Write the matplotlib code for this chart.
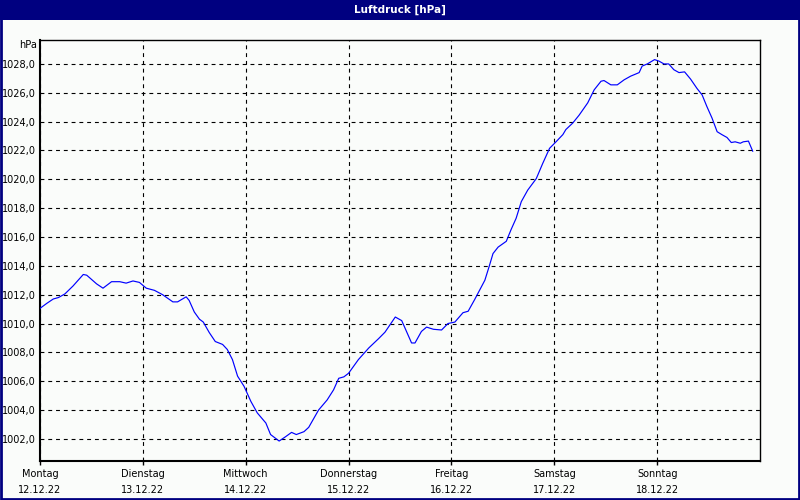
import numpy as np
import matplotlib.pyplot as plt
from matplotlib.patches import Rectangle

# Luftdruck-Verlauf 12.12.22 - 18.12.22
# Stunden ab Montag 00:00
hours = [0.0, 1.6, 3.1, 4.3, 5.8, 7.7, 10.1, 10.9, 13.2, 14.7, 16.7, 18.6, 20.1, 21.7, 23.2,
         24.8, 26.7, 28.6, 31.0, 32.1, 34.1, 34.8, 36.0, 37.2, 38.1, 39.5, 40.9, 42.6, 43.7,
         44.9, 46.1, 47.6, 49.2, 50.7, 52.7, 53.8, 55.8, 57.3, 58.7, 59.8, 61.6, 62.7, 65.0,
         67.0, 68.5, 69.7, 70.9, 72.0, 74.3, 76.7, 79.0, 80.5, 82.9, 84.4, 86.7, 87.5, 89.0,
         90.2, 91.8, 93.7, 95.2, 96.8, 98.7, 99.9, 101.4, 102.2, 103.8, 104.9, 105.7, 106.9,
         108.8, 109.9, 111.1, 112.3, 113.8, 115.8, 117.3, 118.9, 120.4, 122.0, 122.7, 124.3,
         125.8, 127.8, 129.3, 130.9, 131.6, 133.2, 134.7, 136.3, 137.8, 139.8, 140.5, 141.7,
         143.4, 144.4, 145.6, 146.7, 147.9, 149.1, 150.4, 151.8, 153.3, 154.5, 155.6, 156.8,
         158.0, 159.1, 160.3, 161.3, 162.2, 163.4, 164.1, 165.3, 166.3]
hpa = [1011.05, 1011.4, 1011.7, 1011.8, 1012.05, 1012.6, 1013.4, 1013.35, 1012.75, 1012.45,
       1012.9, 1012.9, 1012.8, 1012.95, 1012.85,
       1012.45, 1012.3, 1012.0, 1011.5, 1011.5, 1011.85, 1011.6, 1010.8, 1010.3, 1010.1,
       1009.37, 1008.75, 1008.55, 1008.2,
       1007.5, 1006.35, 1005.65, 1004.6, 1003.8, 1003.1, 1002.3, 1001.85, 1002.15, 1002.45,
       1002.3, 1002.5, 1002.8, 1004.0,
       1004.7, 1005.4, 1006.2, 1006.3, 1006.55, 1007.5, 1008.3, 1008.95, 1009.4, 1010.45,
       1010.2, 1008.65, 1008.65, 1009.45,
       1009.75, 1009.6, 1009.55, 1010.0, 1010.1, 1010.75, 1010.85, 1011.65, 1012.1, 1013.0,
       1014.05, 1014.85, 1015.3,
       1015.7, 1016.5, 1017.3, 1018.45, 1019.25, 1020.05, 1021.1, 1022.15, 1022.6, 1023.1,
       1023.45, 1023.9,
       1024.45, 1025.3, 1026.2, 1026.8, 1026.85, 1026.55, 1026.55, 1026.9, 1027.15, 1027.4,
       1027.85, 1028.0,
       1028.3, 1028.2, 1028.0, 1028.0, 1027.6, 1027.4, 1027.45, 1026.95, 1026.3, 1025.85,
       1025.05, 1024.25,
       1023.3, 1023.1, 1022.9, 1022.55, 1022.6, 1022.5, 1022.6, 1022.65, 1021.95]

days = ['Montag', 'Dienstag', 'Mittwoch', 'Donnerstag', 'Freitag', 'Samstag', 'Sonntag']
dates = ['12.12.22', '13.12.22', '14.12.22', '15.12.22', '16.12.22', '17.12.22', '18.12.22']
y_ticks = [1002, 1004, 1006, 1008, 1010, 1012, 1014, 1016, 1018, 1020, 1022, 1024, 1026, 1028]

navy = '#000080'
bg = '#FAFCFA'

fig = plt.figure(figsize=(8, 5), dpi=100, facecolor=bg)
ax = fig.add_axes([0.05, 0.079, 0.90, 0.841])
ax.set_facecolor(bg)

# Titelleiste + Rahmen
fig.patches.append(Rectangle((0, 0.96), 1, 0.04, transform=fig.transFigure,
                             facecolor=navy, edgecolor='none', zorder=0))
fig.patches.append(Rectangle((0.001, 0.002), 0.998, 0.996, transform=fig.transFigure,
                             facecolor='none', edgecolor=navy, linewidth=2, zorder=5))
fig.text(0.5, 0.98, 'Luftdruck [hPa]', color='white', fontsize=7.5, fontweight='bold',
         ha='center', va='center')

ax.plot(hours, hpa, color='#0000FF', linewidth=0.85, zorder=3)

ax.set_xlim(0, 168)
ax.set_ylim(1000.5, 1029.66)

ax.set_xticks([24 * i for i in range(7)])
ax.set_xticklabels([d + '\n' + t for d, t in zip(days, dates)], fontsize=7, linespacing=1.75)
ax.set_yticks(y_ticks)
ax.set_yticklabels(['%d,0' % v for v in y_ticks], fontsize=7)
ax.tick_params(axis='x', length=3, width=1, pad=3)
ax.tick_params(axis='y', length=0, pad=3)

ax.grid(True, color='black', linestyle=(0, (3.5, 3.5)), linewidth=0.8)
for s in ['left', 'bottom']:
    ax.spines[s].set_linewidth(1.5)
for s in ['top', 'right']:
    ax.spines[s].set_linewidth(1)

fig.text(0.046, 0.91, 'hPa', fontsize=7, ha='right', va='center')

plt.savefig('out.png', dpi=100, facecolor=bg)
